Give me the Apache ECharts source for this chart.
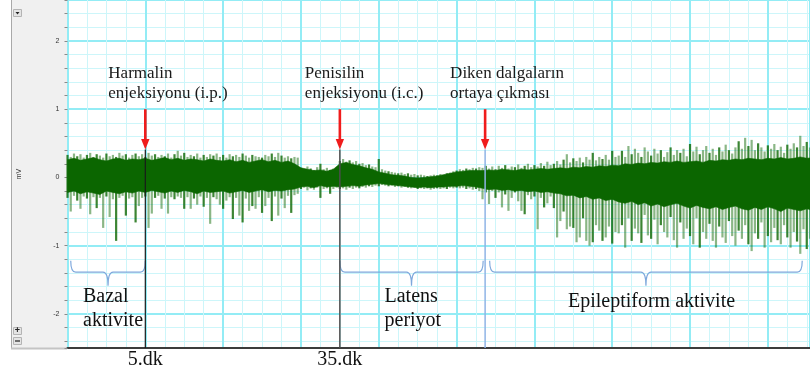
<!DOCTYPE html>
<html>
<head>
<meta charset="utf-8">
<script src="https://cdn.jsdelivr.net/npm/echarts@6/dist/echarts.min.js"></script>
<style>
  html, body { margin: 0; padding: 0; background: #fff; }
  #chart { width: 810px; height: 372px; }
</style>
</head>
<body>
<div id="chart"></div>
<script>
// EEG recording: time in minutes, amplitude in mV
const T0 = -7;            // time of the first sample (min)
const CORE_STEP = 1;      // step of the dense-core envelope (min)
const SPIKE_STEP = 0.5;   // step of the spike samples (min)

// Upper / lower edge of the dense trace core (one value per minute)
const coreTop = [
  0.26, 0.28, 0.25, 0.27, 0.29, 0.26, 0.24, 0.27, 0.28, 0.25, 0.27, 0.26,
  0.28, 0.25, 0.27, 0.29, 0.26, 0.28, 0.25, 0.27, 0.26, 0.24, 0.27, 0.25,
  0.24, 0.26, 0.23, 0.25, 0.22, 0.24, 0.26, 0.23, 0.25, 0.22, 0.24, 0.2,
  0.14, 0.12, 0.1, 0.11, 0.09, 0.12,
  0.2, 0.22, 0.19, 0.17, 0.14, 0.12,
  0.08, 0.06, 0.04, 0.03, 0.02,
  0.0, -0.01, 0.0, 0.01, 0.02,
  0.04, 0.06, 0.08, 0.09, 0.1, 0.1,
  0.1, 0.11, 0.1, 0.12, 0.11, 0.1, 0.12, 0.11, 0.12, 0.13, 0.12, 0.13,
  0.14, 0.13, 0.15, 0.14, 0.16, 0.15, 0.17, 0.16, 0.18, 0.17,
  0.2, 0.19, 0.21, 0.2, 0.22, 0.21, 0.23, 0.22, 0.24, 0.22, 0.23, 0.24, 0.22, 0.25,
  0.24, 0.26, 0.25, 0.27, 0.26, 0.28, 0.27, 0.26, 0.28, 0.27, 0.29, 0.27, 0.28, 0.3, 0.28, 0.29
];
const coreBot = [
  -0.22, -0.2, -0.24, -0.21, -0.23, -0.25, -0.2, -0.22, -0.24, -0.21, -0.23, -0.2,
  -0.22, -0.19, -0.21, -0.23, -0.2, -0.22, -0.19, -0.21, -0.24, -0.2, -0.22, -0.21,
  -0.2, -0.23, -0.21, -0.19, -0.22, -0.2, -0.18, -0.21, -0.19, -0.2, -0.18, -0.17,
  -0.14, -0.13, -0.15, -0.12, -0.14, -0.13,
  -0.14, -0.13, -0.12, -0.13, -0.11, -0.1,
  -0.09, -0.1, -0.11, -0.12, -0.13,
  -0.14, -0.15, -0.14, -0.15, -0.14,
  -0.14, -0.13, -0.13, -0.12, -0.13, -0.14,
  -0.16, -0.18, -0.17, -0.19, -0.18, -0.2, -0.19, -0.21, -0.2, -0.22, -0.21, -0.23,
  -0.24, -0.27, -0.26, -0.3, -0.28, -0.32, -0.3, -0.34, -0.32, -0.36,
  -0.38, -0.35, -0.4, -0.37, -0.42, -0.39, -0.43, -0.4, -0.38, -0.42, -0.45, -0.41, -0.44, -0.46,
  -0.43, -0.47, -0.44, -0.42, -0.46, -0.48, -0.44, -0.47, -0.43, -0.46, -0.5, -0.45, -0.47, -0.49, -0.46, -0.48
];

// Peak excursions of the trace, one pair per half minute
const spikeHi = [
  0.33, 0.3, 0.35, 0.31, 0.34, 0.29, 0.33, 0.36, 0.3, 0.34, 0.32, 0.29,
  0.35, 0.31, 0.33, 0.3, 0.36, 0.32, 0.34, 0.29, 0.33, 0.35, 0.31, 0.34,
  0.3, 0.36, 0.32, 0.34, 0.3, 0.33, 0.31, 0.35, 0.29, 0.34, 0.39, 0.32,
  0.36, 0.3, 0.33, 0.31, 0.35, 0.29, 0.33, 0.3, 0.34, 0.32, 0.35, 0.3,
  0.33, 0.29, 0.34, 0.31, 0.33, 0.3, 0.35, 0.32, 0.29, 0.33, 0.31, 0.3,
  0.29, 0.33, 0.31, 0.35, 0.3, 0.36, 0.32, 0.29, 0.31, 0.28, 0.3, 0.29,
  0.14, 0.12, 0.16, 0.13, 0.11, 0.15, 0.2, 0.12, 0.14, 0.11, 0.13, 0.15,
  0.24, 0.27, 0.23, 0.25, 0.22, 0.24, 0.2, 0.21, 0.18, 0.19, 0.16, 0.15,
  0.27, 0.12, 0.1, 0.09, 0.08, 0.07, 0.06, 0.07, 0.05, 0.06, 0.04, 0.05,
  0.03, 0.04, 0.03, 0.02, 0.03, 0.04, 0.03, 0.05, 0.04, 0.06, 0.07, 0.09,
  0.1, 0.12, 0.11, 0.13, 0.12, 0.14, 0.13, 0.15,
  0.14, 0.17, 0.13, 0.16, 0.12, 0.17, 0.14, 0.18, 0.13, 0.16, 0.15, 0.19,
  0.14, 0.17, 0.2, 0.15, 0.18, 0.16, 0.21, 0.17, 0.23, 0.18, 0.2, 0.24,
  0.19, 0.26, 0.34, 0.22, 0.28, 0.24, 0.29, 0.22, 0.3, 0.26, 0.36, 0.25,
  0.3, 0.27, 0.33, 0.26, 0.39, 0.3, 0.32,
  0.39, 0.3, 0.46, 0.34, 0.42, 0.36, 0.3, 0.44, 0.38, 0.32, 0.42, 0.35,
  0.4, 0.3, 0.37, 0.44, 0.33, 0.4, 0.36, 0.42, 0.31, 0.49, 0.38, 0.45,
  0.34, 0.4, 0.46, 0.36, 0.42, 0.33, 0.44, 0.38, 0.48, 0.4, 0.35, 0.44,
  0.53, 0.42, 0.58, 0.46, 0.55, 0.4, 0.5, 0.44, 0.38, 0.47, 0.42, 0.49,
  0.4, 0.45, 0.36, 0.48, 0.42, 0.5, 0.44, 0.61, 0.46, 0.52, 0.44
];
const spikeLo = [
  -0.3, -0.5, -0.27, -0.34, -0.46, -0.28, -0.31, -0.54, -0.29, -0.45, -0.3, -0.74,
  -0.28, -0.58, -0.32, -0.93, -0.3, -0.27, -0.56, -0.31, -0.29, -0.66, -0.42, -0.3,
  -0.28, -0.74, -0.53, -0.3, -0.27, -0.46, -0.31, -0.53, -0.29, -0.32, -0.28, -0.3,
  -0.46, -0.29, -0.46, -0.31, -0.4, -0.28, -0.43, -0.3, -0.68, -0.29, -0.32, -0.4,
  -0.46, -0.34, -0.29, -0.61, -0.3, -0.56, -0.66, -0.31, -0.49, -0.42, -0.46, -0.29,
  -0.52, -0.42, -0.3, -0.64, -0.28, -0.56, -0.31, -0.45, -0.27, -0.52, -0.26, -0.24,
  -0.17, -0.15, -0.19, -0.16, -0.18, -0.15, -0.3, -0.17, -0.16, -0.24, -0.17, -0.15,
  -0.17, -0.16, -0.18, -0.15, -0.17, -0.15, -0.16, -0.14, -0.15, -0.13, -0.14, -0.12,
  -0.13, -0.11, -0.12, -0.13, -0.12, -0.14, -0.13, -0.15, -0.14, -0.15, -0.16, -0.15,
  -0.17, -0.16, -0.17, -0.16, -0.18, -0.17, -0.16, -0.17, -0.16, -0.17, -0.15, -0.16,
  -0.15, -0.16, -0.15, -0.17, -0.16, -0.18, -0.17, -0.2,
  -0.32, -0.22, -0.39, -0.2, -0.3, -0.22, -0.44, -0.25, -0.49, -0.3, -0.22, -0.35,
  -0.49, -0.54, -0.26, -0.32, -0.28, -0.76, -0.3, -0.44, -0.38, -0.28, -0.45, -0.88,
  -0.64, -0.5, -0.76, -0.72, -0.74, -0.95, -0.88, -0.6, -0.93, -1.0, -0.95, -0.7,
  -0.78, -0.93, -0.88, -0.72, -0.97, -0.8, -0.82,
  -0.7, -1.03, -0.6, -0.93, -0.75, -0.82, -0.96, -0.55, -0.85, -0.9, -0.62, -0.98,
  -0.7, -0.8, -0.88, -0.58, -0.92, -1.03, -0.66, -0.9, -0.75, -0.86, -0.98, -0.6,
  -1.03, -0.8, -0.9, -0.68, -0.93, -1.03, -0.72, -0.88, -0.96, -0.64, -0.86, -1.0,
  -0.78, -0.9, -0.7, -0.98, -1.08, -0.82, -0.9, -0.66, -1.03, -0.86, -0.95, -0.74,
  -0.92, -0.98, -0.7, -0.88, -1.03, -0.8, -0.94, -1.12, -0.76, -1.05, -0.9
];

// Injections / onset of spike waves (min)
const eventTimes = [5, 35, 57.4];
const eventTexts = [
  'Harmalin\nenjeksiyonu (i.p.)',
  'Penisilin\nenjeksiyonu (i.c.)',
  'Diken dalgaların\nortaya çıkması'
];
const eventTickLabels = ['5.dk', '35.dk', ''];

// Recording periods (min)
const periodStart = [-6.5, 35, 58.1];
const periodEnd = [5, 57.1, 106.3];
const periodNames = ['Bazal\naktivite', 'Latens\nperiyot', 'Epileptiform aktivite'];

// ---- styling ----
const GRID_MAJOR = '#93ecf5';
const GRID_MINOR = '#cdf6fa';
const TRACE = '#0b6600';
const ARROW_RED = '#f01c1c';
const BRACE_BLUE = '#7ea8dc';
const SERIF = '"Liberation Serif", "Times New Roman", serif';
const ARROW_FROM = 1.0, ARROW_TO = 0.41;      // arrow span (mV)
const BRACE_LEVEL = -1.22;                    // brace ends (mV)
const Y_MIN = -2.5, Y_MAX = 2.6;
const eventStyle = [
  { line: '#1a1a1a', width: 1.2, dx: -37 },
  { line: '#4d4d4d', width: 1.5, dx: -35 },
  { line: '#8fb4e6', width: 1.5, dx: -35 }
];
const periodStyle = [
  { dx: -25, dy: 24 },
  { dx: -27, dy: 24 },
  { dx: -78, dy: 29 }
];

const chart = echarts.init(document.getElementById('chart'), null, { renderer: 'canvas' });

chart.setOption({
  animation: false,
  backgroundColor: '#ffffff',
  grid: { left: 67.5, right: 0, top: -1, bottom: 24, containLabel: false },
  xAxis: {
    type: 'value', min: -7, max: 107.5, interval: 12,
    axisLine: { show: true, onZero: false, lineStyle: { color: '#3c3c3c', width: 2 } },
    axisTick: { show: false },
    axisLabel: { show: false },
    splitLine: { show: true, lineStyle: { color: GRID_MAJOR, width: 2 } },
    minorTick: { show: false, splitNumber: 4 },
    minorSplitLine: { show: true, lineStyle: { color: GRID_MINOR, width: 1 } }
  },
  yAxis: {
    type: 'value', min: Y_MIN, max: Y_MAX, splitNumber: 5,
    axisLine: { show: false, onZero: false },
    axisTick: { show: true, length: 3, lineStyle: { color: '#8a8a8a' } },
    minorTick: { show: true, splitNumber: 5, length: 3, lineStyle: { color: '#8a8a8a' } },
    axisLabel: {
      fontSize: 7, color: '#333', margin: 8, fontFamily: 'Liberation Sans',
      showMinLabel: false, showMaxLabel: false
    },
    splitLine: { show: true, lineStyle: { color: GRID_MAJOR, width: 2 } },
    minorSplitLine: { show: true, lineStyle: { color: GRID_MINOR, width: 1 } },
    name: 'mV', nameLocation: 'middle', nameGap: 45, nameRotate: 90,
    nameTextStyle: { fontSize: 7, color: '#333', fontFamily: 'Liberation Sans' }
  },
  graphic: [
    // recorder side panel
    { type: 'rect', z: -1, silent: true, shape: { x: 11, y: 0, width: 56, height: 349 }, style: { fill: '#f0f0f0' } },
    { type: 'line', z: -1, silent: true, shape: { x1: 11.5, y1: 0, x2: 11.5, y2: 349 }, style: { stroke: '#a9a9a9', lineWidth: 1 } },
    { type: 'line', z: -1, silent: true, shape: { x1: 11, y1: 348.5, x2: 67, y2: 348.5 }, style: { stroke: '#c4c4c4', lineWidth: 2 } },
    { type: 'rect', z: -1, silent: true, shape: { x: 13.5, y: 9.5, width: 8, height: 7 }, style: { fill: '#e4e4e4', stroke: '#b4b4b4', lineWidth: 1 } },
    { type: 'polygon', z: -1, silent: true, shape: { points: [[15.5, 12], [19.5, 12], [17.5, 14.5]] }, style: { fill: '#222' } },
    { type: 'rect', z: -1, silent: true, shape: { x: 13.5, y: 327.5, width: 8, height: 7 }, style: { fill: '#e4e4e4', stroke: '#b4b4b4', lineWidth: 1 } },
    { type: 'text', z: -1, silent: true, x: 17.5, y: 331, style: { text: '+', font: 'bold 9px "Liberation Sans"', fill: '#222', align: 'center', verticalAlign: 'middle' } },
    { type: 'rect', z: -1, silent: true, shape: { x: 13.5, y: 337.5, width: 8, height: 7 }, style: { fill: '#e4e4e4', stroke: '#b4b4b4', lineWidth: 1 } },
    { type: 'line', z: -1, silent: true, shape: { x1: 15, y1: 341, x2: 20, y2: 341 }, style: { stroke: '#222', lineWidth: 1.2 } }
  ],
  series: [
    // individual excursions beyond the core
    {
      type: 'custom', silent: true, z: 2,
      data: spikeLo.map((lo, i) => [T0 + i * SPIKE_STEP, lo, spikeHi[i]]),
      encode: { x: 0, y: [1, 2] },
      renderItem(params, api) {
        const a = api.coord([api.value(0), api.value(1)]);
        const b = api.coord([api.value(0), api.value(2)]);
        return {
          type: 'line',
          shape: { x1: a[0], y1: a[1], x2: b[0], y2: b[1] },
          style: {
            stroke: TRACE, lineWidth: 2.2,
            opacity: params.dataIndex % 3 === 0 ? 0.8 : 0.48
          }
        };
      }
    },
    // dense core of the trace: one filled band between the two envelopes
    {
      type: 'custom', silent: true, z: 3, clip: true,
      data: [[T0, 0]],
      encode: { x: 0, y: 1 },
      renderItem(params, api) {
        const pts = [];
        coreTop.forEach((v, j) => pts.push(api.coord([T0 + j * CORE_STEP, v])));
        for (let j = coreBot.length - 1; j >= 0; j--) {
          pts.push(api.coord([T0 + j * CORE_STEP, coreBot[j]]));
        }
        return {
          type: 'polygon',
          shape: { points: pts },
          style: { fill: TRACE, stroke: TRACE, lineWidth: 0.6 }
        };
      }
    },
    // period braces and names
    {
      type: 'custom', silent: true, z: 5, clip: false,
      data: periodStart.map((s, k) => [s, periodEnd[k], k]),
      encode: { x: [0, 1] },
      renderItem(params, api) {
        const k = api.value(2);
        const a = api.coord([api.value(0), BRACE_LEVEL]);
        const b = api.coord([api.value(1), BRACE_LEVEL]);
        const x0 = a[0], x1 = b[0], y0 = a[1];
        const ym = y0 + 11.5, yt = y0 + 25, xm = (x0 + x1) / 2, r = 5;
        const d = `M${x0},${y0} Q${x0},${ym} ${x0 + r},${ym} L${xm - r},${ym} ` +
                  `Q${xm},${ym} ${xm},${yt} Q${xm},${ym} ${xm + r},${ym} ` +
                  `L${x1 - r},${ym} Q${x1},${ym} ${x1},${y0}`;
        return {
          type: 'group',
          children: [
            { type: 'path', shape: { pathData: d }, style: { stroke: BRACE_BLUE, lineWidth: 1.2, fill: 'none' } },
            {
              type: 'text', x: xm + periodStyle[k].dx, y: y0 + periodStyle[k].dy,
              style: {
                text: periodNames[k], font: '20px ' + SERIF, fill: '#111',
                lineHeight: 24, align: 'left', verticalAlign: 'top'
              }
            }
          ]
        };
      }
    },
    // event markers: vertical line, red arrow, caption, time label
    {
      type: 'custom', silent: true, z: 6, clip: false,
      data: eventTimes.map((t, k) => [t, k]),
      encode: { x: 0 },
      renderItem(params, api) {
        const t = api.value(0), k = api.value(1);
        const st = eventStyle[k];
        const top = api.coord([t, ARROW_FROM]);
        const tip = api.coord([t, ARROW_TO]);
        const base = api.coord([t, Y_MIN]);
        return {
          type: 'group',
          children: [
            { type: 'line', shape: { x1: tip[0], y1: tip[1], x2: base[0], y2: base[1] }, style: { stroke: st.line, lineWidth: st.width } },
            { type: 'line', shape: { x1: top[0], y1: top[1], x2: tip[0], y2: tip[1] - 9 }, style: { stroke: ARROW_RED, lineWidth: 2.6 } },
            { type: 'polygon', shape: { points: [[tip[0] - 4.2, tip[1] - 10.5], [tip[0] + 4.2, tip[1] - 10.5], [tip[0], tip[1]]] }, style: { fill: ARROW_RED } },
            {
              type: 'text', x: top[0] + st.dx, y: top[1] - 45,
              style: {
                text: eventTexts[k], font: '17px ' + SERIF, fill: '#1a1a1a',
                lineHeight: 19.5, align: 'left', verticalAlign: 'top'
              }
            },
            {
              type: 'text', x: base[0], y: base[1] + 12,
              style: {
                text: eventTickLabels[k], font: '20px ' + SERIF, fill: '#111',
                align: 'center', verticalAlign: 'middle'
              }
            }
          ]
        };
      }
    }
  ]
});
</script>
</body>
</html>
